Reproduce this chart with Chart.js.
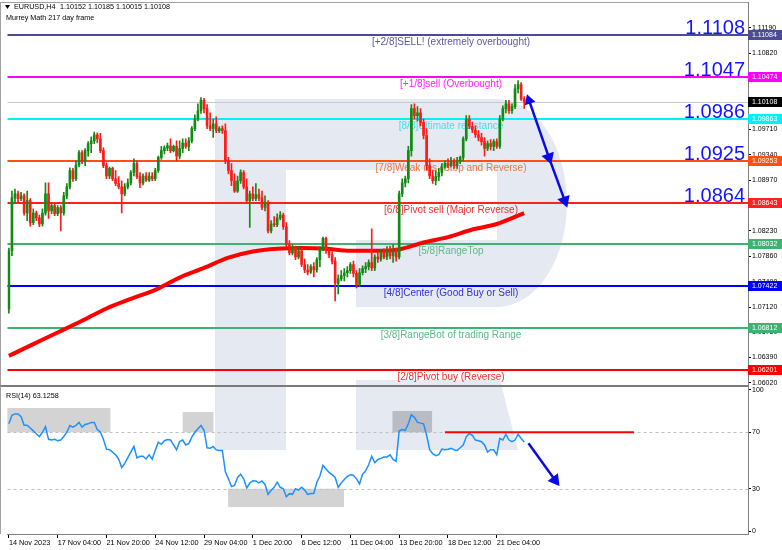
<!DOCTYPE html>
<html>
<head>
<meta charset="utf-8">
<title>EURUSD H4 Murrey Math</title>
<script src="https://cdn.jsdelivr.net/npm/chart.js@4.4.1/dist/chart.umd.min.js"></script>
<style>
  body { margin: 0; background: #fff; }
  #wrap { position: relative; width: 782px; height: 550px; overflow: hidden; }
  #wrap svg, #wrap canvas { position: absolute; left: 0; }
  #logo { top: 0; }
  #priceChart { top: -8px; }
  #rsiChart { top: 376px; }
</style>
</head>
<body>
<div id="wrap">
  <svg id="logo" width="782" height="550">
    <path fill="#e5eaf2" d="M215 99 H497 A70 104 0 0 1 497 307 H356 V240 H497 V170 H286 V450 H215 Z"/>
    <path fill="#e5eaf2" d="M356 380 H500 L518 450 H356 Z"/>
  </svg>
  <canvas id="priceChart" width="782" height="405"></canvas>
  <canvas id="rsiChart" width="782" height="174"></canvas>
</div>
<script>
// H4 candles, bar 0 = 14 Nov 2023
const opens = [
  1.0709, 1.0794, 1.0871, 1.0877, 1.0870, 1.0874, 1.0849, 1.0867, 1.0835, 1.0849,
  1.0842, 1.0833, 1.0849, 1.0877, 1.0852, 1.0860, 1.0848, 1.0857, 1.0849, 1.0874,
  1.0887, 1.0911, 1.0899, 1.0919, 1.0937, 1.0925, 1.0940, 1.0950, 1.0954, 1.0963,
  1.0957, 1.0940, 1.0918, 1.0903, 1.0914, 1.0899, 1.0892, 1.0887, 1.0877, 1.0887,
  1.0893, 1.0908, 1.0921, 1.0902, 1.0893, 1.0903, 1.0897, 1.0903, 1.0899, 1.0911,
  1.0930, 1.0940, 1.0944, 1.0947, 1.0940, 1.0946, 1.0932, 1.0943, 1.0951, 1.0946,
  1.0954, 1.0972, 1.0986, 1.0998, 1.1013, 1.1001, 1.0976, 1.0972, 1.0979, 1.0969,
  1.0972, 1.0969, 1.0925, 1.0911, 1.0896, 1.0881, 1.0896, 1.0908, 1.0887, 1.0867,
  1.0877, 1.0870, 1.0876, 1.0871, 1.0857, 1.0864, 1.0823, 1.0833, 1.0832, 1.0842,
  1.0846, 1.0829, 1.0803, 1.0791, 1.0798, 1.0785, 1.0794, 1.0774, 1.0766, 1.0763,
  1.0771, 1.0766, 1.0781, 1.0797, 1.0812, 1.0794, 1.0788, 1.0779, 1.0747, 1.0753,
  1.0758, 1.0762, 1.0765, 1.0774, 1.0761, 1.0745, 1.0762, 1.0768, 1.0771, 1.0777,
  1.0769, 1.0785, 1.0782, 1.0791, 1.0785, 1.0794, 1.0787, 1.0793, 1.0785, 1.0877,
  1.0893, 1.0899, 1.0940, 1.1001, 1.0991, 1.0995, 1.0981, 1.0962, 1.0918, 1.0903,
  1.0896, 1.0902, 1.0908, 1.0916, 1.0921, 1.0918, 1.0924, 1.0918, 1.0925, 1.0930,
  1.0957, 1.0986, 1.0975, 1.0970, 1.0963, 1.0959, 1.0953, 1.0943, 1.0950, 1.0946,
  1.0953, 1.0946, 1.0986, 1.1001, 1.1008, 1.0998, 1.1004, 1.1030, 1.1036, 1.10152
];
const highs = [
  1.0798, 1.0881, 1.0884, 1.0881, 1.0879, 1.0877, 1.0881, 1.0870, 1.0855, 1.0852,
  1.0846, 1.0855, 1.0893, 1.0893, 1.0863, 1.0863, 1.0860, 1.0860, 1.0879, 1.0892,
  1.0915, 1.0914, 1.0925, 1.0940, 1.0940, 1.0943, 1.0953, 1.0960, 1.0967, 1.0966,
  1.0965, 1.0944, 1.0922, 1.0916, 1.0916, 1.0911, 1.0902, 1.0896, 1.0892, 1.0899,
  1.0911, 1.0928, 1.0925, 1.0908, 1.0906, 1.0908, 1.0908, 1.0908, 1.0914, 1.0932,
  1.0946, 1.0947, 1.0951, 1.0957, 1.0948, 1.0954, 1.0954, 1.0957, 1.0957, 1.0959,
  1.0975, 1.0992, 1.1008, 1.1017, 1.1016, 1.1007, 1.0995, 1.0986, 1.0989, 1.0975,
  1.0976, 1.0979, 1.0930, 1.0921, 1.0906, 1.0903, 1.0912, 1.0911, 1.0899, 1.0881,
  1.0887, 1.0892, 1.0884, 1.0881, 1.0874, 1.0867, 1.0838, 1.0844, 1.0848, 1.0851,
  1.0849, 1.0835, 1.0809, 1.0803, 1.0801, 1.0800, 1.0798, 1.0782, 1.0774, 1.0774,
  1.0777, 1.0784, 1.0800, 1.0814, 1.0814, 1.0797, 1.0793, 1.0784, 1.0759, 1.0765,
  1.0768, 1.0771, 1.0777, 1.0779, 1.0765, 1.0768, 1.0772, 1.0777, 1.0781, 1.0826,
  1.0788, 1.0791, 1.0796, 1.0797, 1.0800, 1.0801, 1.0803, 1.0798, 1.0881, 1.0899,
  1.0903, 1.0946, 1.1007, 1.1008, 1.1004, 1.1001, 1.0986, 1.0972, 1.0928, 1.0911,
  1.0911, 1.0914, 1.0921, 1.0925, 1.0928, 1.0930, 1.0928, 1.0930, 1.0932, 1.0960,
  1.0991, 1.0991, 1.0981, 1.0976, 1.0969, 1.0965, 1.0959, 1.0954, 1.0956, 1.0956,
  1.0957, 1.0991, 1.1005, 1.1013, 1.1013, 1.1008, 1.1036, 1.1042, 1.1039, 1.10185
];
const lows = [
  1.0703, 1.0787, 1.0864, 1.0863, 1.0867, 1.0846, 1.0838, 1.0830, 1.0832, 1.0838,
  1.0829, 1.0830, 1.0846, 1.0841, 1.0848, 1.0845, 1.0845, 1.0823, 1.0846, 1.0870,
  1.0884, 1.0895, 1.0896, 1.0916, 1.0921, 1.0918, 1.0932, 1.0937, 1.0950, 1.0951,
  1.0937, 1.0915, 1.0899, 1.0899, 1.0896, 1.0889, 1.0884, 1.0849, 1.0874, 1.0884,
  1.0890, 1.0903, 1.0899, 1.0886, 1.0890, 1.0895, 1.0895, 1.0896, 1.0896, 1.0908,
  1.0927, 1.0935, 1.0940, 1.0937, 1.0938, 1.0925, 1.0928, 1.0937, 1.0943, 1.0940,
  1.0951, 1.0969, 1.0983, 1.0994, 1.0995, 1.0972, 1.0969, 1.0959, 1.0966, 1.0966,
  1.0965, 1.0921, 1.0906, 1.0889, 1.0879, 1.0879, 1.0892, 1.0884, 1.0864, 1.0828,
  1.0867, 1.0867, 1.0867, 1.0854, 1.0852, 1.0820, 1.0820, 1.0829, 1.0829, 1.0839,
  1.0825, 1.0800, 1.0788, 1.0788, 1.0781, 1.0782, 1.0771, 1.0762, 1.0759, 1.0761,
  1.0756, 1.0763, 1.0771, 1.0794, 1.0790, 1.0784, 1.0775, 1.0721, 1.0731, 1.0750,
  1.0750, 1.0756, 1.0761, 1.0756, 1.0740, 1.0742, 1.0759, 1.0762, 1.0766, 1.0765,
  1.0765, 1.0777, 1.0779, 1.0782, 1.0781, 1.0782, 1.0777, 1.0779, 1.0782, 1.0873,
  1.0887, 1.0893, 1.0932, 1.0986, 1.0983, 1.0976, 1.0957, 1.0911, 1.0899, 1.0892,
  1.0890, 1.0896, 1.0903, 1.0914, 1.0915, 1.0916, 1.0914, 1.0914, 1.0921, 1.0925,
  1.0954, 1.0972, 1.0966, 1.0959, 1.0954, 1.0948, 1.0932, 1.0940, 1.0941, 1.0940,
  1.0943, 1.0943, 1.0983, 1.0995, 1.0994, 1.0994, 1.1001, 1.1024, 1.1013, 1.10015
];
const closes = [
  1.0794, 1.0871, 1.0877, 1.0870, 1.0874, 1.0849, 1.0867, 1.0835, 1.0849, 1.0842,
  1.0833, 1.0849, 1.0877, 1.0852, 1.0860, 1.0848, 1.0857, 1.0849, 1.0874, 1.0887,
  1.0911, 1.0899, 1.0919, 1.0937, 1.0925, 1.0940, 1.0950, 1.0954, 1.0963, 1.0957,
  1.0940, 1.0918, 1.0903, 1.0914, 1.0899, 1.0892, 1.0887, 1.0877, 1.0887, 1.0893,
  1.0908, 1.0921, 1.0902, 1.0893, 1.0903, 1.0897, 1.0903, 1.0899, 1.0911, 1.0930,
  1.0940, 1.0944, 1.0947, 1.0940, 1.0946, 1.0932, 1.0943, 1.0951, 1.0946, 1.0954,
  1.0972, 1.0986, 1.0998, 1.1013, 1.1001, 1.0976, 1.0972, 1.0979, 1.0969, 1.0972,
  1.0969, 1.0925, 1.0911, 1.0896, 1.0881, 1.0896, 1.0908, 1.0887, 1.0867, 1.0877,
  1.0870, 1.0876, 1.0871, 1.0857, 1.0864, 1.0823, 1.0833, 1.0832, 1.0842, 1.0846,
  1.0829, 1.0803, 1.0791, 1.0798, 1.0785, 1.0794, 1.0774, 1.0766, 1.0763, 1.0771,
  1.0766, 1.0781, 1.0797, 1.0812, 1.0794, 1.0788, 1.0779, 1.0747, 1.0753, 1.0758,
  1.0762, 1.0765, 1.0774, 1.0761, 1.0745, 1.0762, 1.0768, 1.0771, 1.0777, 1.0769,
  1.0785, 1.0782, 1.0791, 1.0785, 1.0794, 1.0787, 1.0793, 1.0785, 1.0877, 1.0893,
  1.0899, 1.0940, 1.1001, 1.0991, 1.0995, 1.0981, 1.0962, 1.0918, 1.0903, 1.0896,
  1.0902, 1.0908, 1.0916, 1.0921, 1.0918, 1.0924, 1.0918, 1.0925, 1.0930, 1.0957,
  1.0986, 1.0975, 1.0970, 1.0963, 1.0959, 1.0953, 1.0943, 1.0950, 1.0946, 1.0953,
  1.0946, 1.0986, 1.1001, 1.1008, 1.0998, 1.1004, 1.1030, 1.1036, 1.1015, 1.10108
];

// RSI(14) per bar
const rsi = [
  76, 82, 83, 83, 81, 75, 75, 73, 71, 69,
  67, 70, 74, 65, 64.5, 65, 64, 64.5, 67, 70,
  74.8, 73.7, 74.8, 77, 73.7, 75.5, 76, 77, 77, 72,
  70.2, 65, 58, 57.6, 56, 54, 51, 45, 48, 52,
  56, 60, 51.8, 53, 53, 51.1, 54, 51, 57, 63,
  61.5, 64, 64.9, 64.5, 61, 57.6, 63.5, 64.5, 61, 62,
  66.5, 70, 72.5, 74.8, 71.4, 59, 58.7, 59.9, 57.5, 57.1,
  57.1, 42, 37, 31.5, 32.3, 38, 40.3, 37, 30.5, 34,
  35.7, 35.5, 34.1, 35.5, 33, 26, 28.9, 31, 34.6, 31,
  30, 24.3, 26.5, 26, 30, 29, 31, 29, 26, 26.6,
  26.6, 34.6, 39, 46.6, 44, 41.5, 40, 38, 31, 34,
  36.5, 38.7, 39.9, 39.5, 37, 33.4, 40.3, 42.6, 47, 53,
  48.4, 50.7, 51.5, 52.5, 52.5, 54, 50.7, 49.5, 71, 72,
  71.4, 76, 82.4, 80.6, 77, 76.5, 76, 67.9, 57.6, 54.8,
  53.4, 54.1, 58, 57.6, 58, 58.7, 57.6, 57.1, 59, 61,
  66.8, 69.1, 67.9, 64.5, 64, 63.3, 61, 56, 57.6, 57.6,
  54.1, 65.6, 64.5, 68.6, 64.5, 63.3, 64.5, 68.6, 65.6, 63.13
];

// red moving average, read every 8 bars
const maBars = [0, 8, 16, 24, 32, 40, 48, 56, 64, 72, 80, 88, 96, 104, 112, 120, 128, 136, 144, 152, 160, 169];
const maValues = [1.0641, 1.0658, 1.0675, 1.0692, 1.0710, 1.0724, 1.0737, 1.0755, 1.0769, 1.0784, 1.0793,
                  1.0797, 1.0798, 1.0797, 1.0794, 1.0794, 1.0796, 1.0806, 1.0814, 1.0825, 1.0833, 1.0849];

// Murrey Math levels
const levels = [1.11084, 1.10474, 1.09863, 1.09253, 1.08643, 1.08032, 1.07422, 1.06812, 1.06201];
const levelNames = [
  '[+2/8]SELL! (extremely overbought)', '[+1/8]sell (Overbought)', '[8/8]Ultimate resistance',
  '[7/8]Weak res (Stop and Reverse)', '[6/8]Pivot sell (Major Reverse)', '[5/8]RangeTop',
  '[4/8]Center (Good Buy or Sell)', '[3/8]RangeBot of trading Range', '[2/8]Pivot buy (Reverse)'
];
const bigLabels = ['1.1108', '1.1047', '1.0986', '1.0925', '1.0864'];
const lastPrice = 1.10108;

// axis ticks
const priceTicks = [1.1119, 1.1082, 1.1045, 1.1008, 1.0971, 1.0934, 1.0897, 1.0860,
                    1.0823, 1.0786, 1.0749, 1.0712, 1.0675, 1.0639, 1.0602];
const rsiTicks = [0, 30, 70, 100];
const timeBars = [0, 16, 32, 48, 64, 80, 96, 112, 128, 144, 160];
const timeLabels = ['14 Nov 2023', '17 Nov 04:00', '21 Nov 20:00', '24 Nov 12:00', '29 Nov 04:00',
                    '1 Dec 20:00', '6 Dec 12:00', '11 Dec 04:00', '13 Dec 20:00', '18 Dec 12:00', '21 Dec 04:00'];

// forecast arrows
const arrowBars = [170.6, 177.1, 182.3];
const arrowPrices = [1.1013, 1.0930, 1.0867];
const rsiArrowBars = [170.4, 179.1];
const rsiArrowValues = [62.2, 36.1];

// RSI zones: [fromBar, toBar, low, high]
const rsiBoxes = [[-0.5, 33.3, 70, 87.2], [57, 67.1, 70, 84.4], [71.9, 109.9, 17, 30], [125.8, 138.8, 70, 85.1]];
const rsiLine70 = [143, 205];

// styles
const FONT = '"Liberation Sans", Arial, sans-serif';
Chart.defaults.font.family = FONT;
const xMin = -0.455, xMax = 242.4;
const labelBar = 145;
const levelColors = ['#4b4b96', '#ff00ff', '#00f0ff', '#ff4f12', '#ff2020', '#3cb371', '#0000ff', '#3cb371', '#ff0000'];
const levelTextColors = ['#5a5aa0', '#ff22ff', '#40e0ea', '#f07840', '#f03030', '#60b888', '#3232d8', '#60b888', '#f03030'];
const boxColors = ['rgba(200,200,200,0.8)', 'rgba(200,200,200,0.8)', 'rgba(200,200,200,0.8)', 'rgba(170,172,178,0.75)'];
const bull = '#138a13', bear = '#ff1a1a';
const candleColors = opens.map((o, i) => closes[i] >= o ? bull : bear);

const hLine = (ctx, x0, x1, y) => { ctx.beginPath(); ctx.moveTo(x0, y); ctx.lineTo(x1, y); ctx.stroke(); };

const levelsPlugin = {
  id: 'levels',
  beforeDatasetsDraw(chart) {
    const {ctx, chartArea: a, scales: {x, y}} = chart;
    ctx.save();
    ctx.strokeStyle = '#c8c8c8';
    ctx.lineWidth = 1;
    hLine(ctx, a.left, a.right, Math.round(y.getPixelForValue(lastPrice)) + 0.5);
    levels.forEach((v, k) => {
      const ly = Math.round(y.getPixelForValue(v));
      ctx.strokeStyle = levelColors[k];
      ctx.lineWidth = 2;
      hLine(ctx, a.left, a.right, ly);
      ctx.fillStyle = levelTextColors[k];
      ctx.font = '10px ' + FONT;
      ctx.textAlign = 'center';
      ctx.textBaseline = 'top';
      ctx.fillText(levelNames[k], x.getPixelForValue(labelBar), ly + 2);
      if (bigLabels[k]) {
        ctx.fillStyle = '#1414ff';
        ctx.font = '20px ' + FONT;
        ctx.textAlign = 'right';
        ctx.textBaseline = 'alphabetic';
        ctx.fillText(bigLabels[k], a.right - 3, ly - 1);
      }
    });
    ctx.restore();
  },
  afterDraw(chart) {
    const {ctx, chartArea: a, scales: {y}} = chart;
    ctx.save();
    // price tags on the axis
    ctx.font = '7px ' + FONT;
    ctx.textBaseline = 'middle';
    ctx.textAlign = 'left';
    const tags = levels.map((v, k) => [v, levelColors[k]]).concat([[lastPrice, '#000']]);
    tags.forEach(([v, c]) => {
      const ty = Math.round(y.getPixelForValue(v));
      ctx.fillStyle = c;
      ctx.fillRect(a.right, ty - 5, 34, 10);
      ctx.fillStyle = '#fff';
      ctx.fillText(v.toFixed(5), a.right + 4, ty + 0.5);
    });
    // header
    const t = a.top;
    ctx.fillStyle = '#000';
    ctx.beginPath();
    ctx.moveTo(5, t + 3); ctx.lineTo(10, t + 3); ctx.lineTo(7.5, t + 7); ctx.closePath(); ctx.fill();
    ctx.font = '7.2px ' + FONT;
    ctx.fillText('EURUSD,H4', 14, t + 5.5);
    ctx.fillText('1.10152 1.10185 1.10015 1.10108', 60, t + 5.5);
    ctx.fillText('Murrey Math 217 day frame', 6, t + 16.5);
    // frame and pane separator
    ctx.strokeStyle = '#a0a0a0';
    ctx.lineWidth = 1;
    ctx.beginPath(); ctx.moveTo(0.5, a.top); ctx.lineTo(0.5, a.bottom); ctx.stroke();
    hLine(ctx, 0, a.right, a.top + 0.5);
    ctx.fillStyle = '#7a7a7a';
    ctx.fillRect(0, a.bottom, a.right, 2);
    ctx.restore();
  }
};

new Chart(document.getElementById('priceChart'), {
  type: 'bar',
  data: {
    datasets: [{
      type: 'line',
      data: maBars.map((b, k) => ({x: b, y: maValues[k]})),
      borderColor: '#ff0000',
      borderWidth: 4,
      pointRadius: 0,
      cubicInterpolationMode: 'monotone',
      order: 5
    }, {
      data: lows.map((l, i) => ({x: i, y: [l, highs[i]]})),
      backgroundColor: candleColors,
      barThickness: 1,
      grouped: false,
      order: 4
    }, {
      data: opens.map((o, i) => ({x: i, y: [o, closes[i]]})),
      backgroundColor: candleColors,
      barThickness: 2,
      minBarLength: 1,
      grouped: false,
      order: 3
    }, {
      type: 'line',
      data: arrowBars.slice(0, 2).map((b, k) => ({x: b, y: arrowPrices[k]})),
      borderColor: '#0a0ae6',
      backgroundColor: '#0a0ae6',
      borderWidth: 2.5,
      pointStyle: 'triangle',
      pointRadius: [4, 5],
      rotation: [-19, 161],
      order: 1
    }, {
      type: 'line',
      data: arrowBars.slice(1).map((b, k) => ({x: b, y: arrowPrices[k + 1]})),
      borderColor: '#0a0ae6',
      backgroundColor: '#0a0ae6',
      borderWidth: 2.5,
      pointStyle: 'triangle',
      pointRadius: [0, 5],
      rotation: [0, 160],
      order: 1
    }]
  },
  options: {
    responsive: false,
    animation: false,
    events: [],
    layout: { padding: { top: 10, bottom: 12, left: 0, right: 0 } },
    plugins: { legend: { display: false }, tooltip: { enabled: false } },
    scales: {
      x: { type: 'linear', min: xMin, max: xMax, offset: false, display: false },
      y: {
        position: 'right',
        min: 1.05985,
        max: 1.11564,
        afterBuildTicks: s => { s.ticks = priceTicks.map(v => ({value: v})); },
        afterFit: s => { s.width = 34; },
        ticks: { font: { size: 7 }, color: '#000', padding: 1, autoSkip: false, callback: v => v.toFixed(5) },
        grid: { drawOnChartArea: false, tickLength: 3, color: '#000' },
        border: { color: '#808080' }
      }
    }
  },
  plugins: [levelsPlugin]
});

const rsiPlugin = {
  id: 'rsiZones',
  beforeDatasetsDraw(chart) {
    const {ctx, chartArea: a, scales: {x, y}} = chart;
    ctx.save();
    rsiBoxes.forEach(([b0, b1, v0, v1], k) => {
      const px0 = x.getPixelForValue(b0), px1 = x.getPixelForValue(b1);
      const py0 = y.getPixelForValue(v1), py1 = y.getPixelForValue(v0);
      ctx.fillStyle = boxColors[k];
      ctx.fillRect(px0, py0, px1 - px0, py1 - py0);
    });
    ctx.strokeStyle = '#c0c0c0';
    ctx.lineWidth = 1;
    ctx.setLineDash([3, 3]);
    [70, 30].forEach(v => hLine(ctx, a.left, a.right, Math.round(y.getPixelForValue(v)) + 0.5));
    ctx.restore();
  },
  afterDraw(chart) {
    const {ctx, chartArea: a} = chart;
    ctx.save();
    ctx.fillStyle = '#000';
    ctx.font = '7.2px ' + FONT;
    ctx.textBaseline = 'middle';
    ctx.fillText('RSI(14) 63.1258', 6, a.top + 10);
    ctx.strokeStyle = '#a0a0a0';
    ctx.beginPath(); ctx.moveTo(0.5, a.top); ctx.lineTo(0.5, a.bottom); ctx.stroke();
    ctx.restore();
  }
};

new Chart(document.getElementById('rsiChart'), {
  type: 'line',
  data: {
    datasets: [{
      data: rsi.map((v, i) => ({x: i, y: v})),
      borderColor: '#1e90ff',
      borderWidth: 1.5,
      pointRadius: 0,
      order: 3
    }, {
      data: rsiLine70.map(b => ({x: b, y: 70})),
      borderColor: '#ff0000',
      borderWidth: 2,
      pointRadius: 0,
      order: 2
    }, {
      data: rsiArrowBars.map((b, k) => ({x: b, y: rsiArrowValues[k]})),
      borderColor: '#0a0ae6',
      backgroundColor: '#0a0ae6',
      borderWidth: 2.5,
      pointStyle: 'triangle',
      pointRadius: [0, 5],
      rotation: [0, 143],
      order: 1
    }]
  },
  options: {
    responsive: false,
    animation: false,
    events: [],
    layout: { padding: { top: 10, bottom: 0, left: 0, right: 0 } },
    plugins: { legend: { display: false }, tooltip: { enabled: false } },
    scales: {
      x: {
        type: 'linear',
        min: xMin,
        max: xMax,
        afterBuildTicks: s => { s.ticks = timeBars.map(v => ({value: v})); },
        afterFit: s => { s.height = 16; },
        ticks: {
          align: 'start', font: { size: 7.3 }, color: '#000', padding: 1,
          maxRotation: 0, autoSkip: false,
          callback: (v, i) => timeLabels[i]
        },
        grid: { drawOnChartArea: false, tickLength: 4, color: '#000' },
        border: { color: '#808080' }
      },
      y: {
        position: 'right',
        min: -2.1,
        max: 102.8,
        afterBuildTicks: s => { s.ticks = rsiTicks.map(v => ({value: v})); },
        afterFit: s => { s.width = 34; },
        ticks: { font: { size: 7 }, color: '#000', padding: 1, autoSkip: false },
        grid: { drawOnChartArea: false, tickLength: 3, color: '#000' },
        border: { color: '#808080' }
      }
    }
  },
  plugins: [rsiPlugin]
});
</script>
</body>
</html>
